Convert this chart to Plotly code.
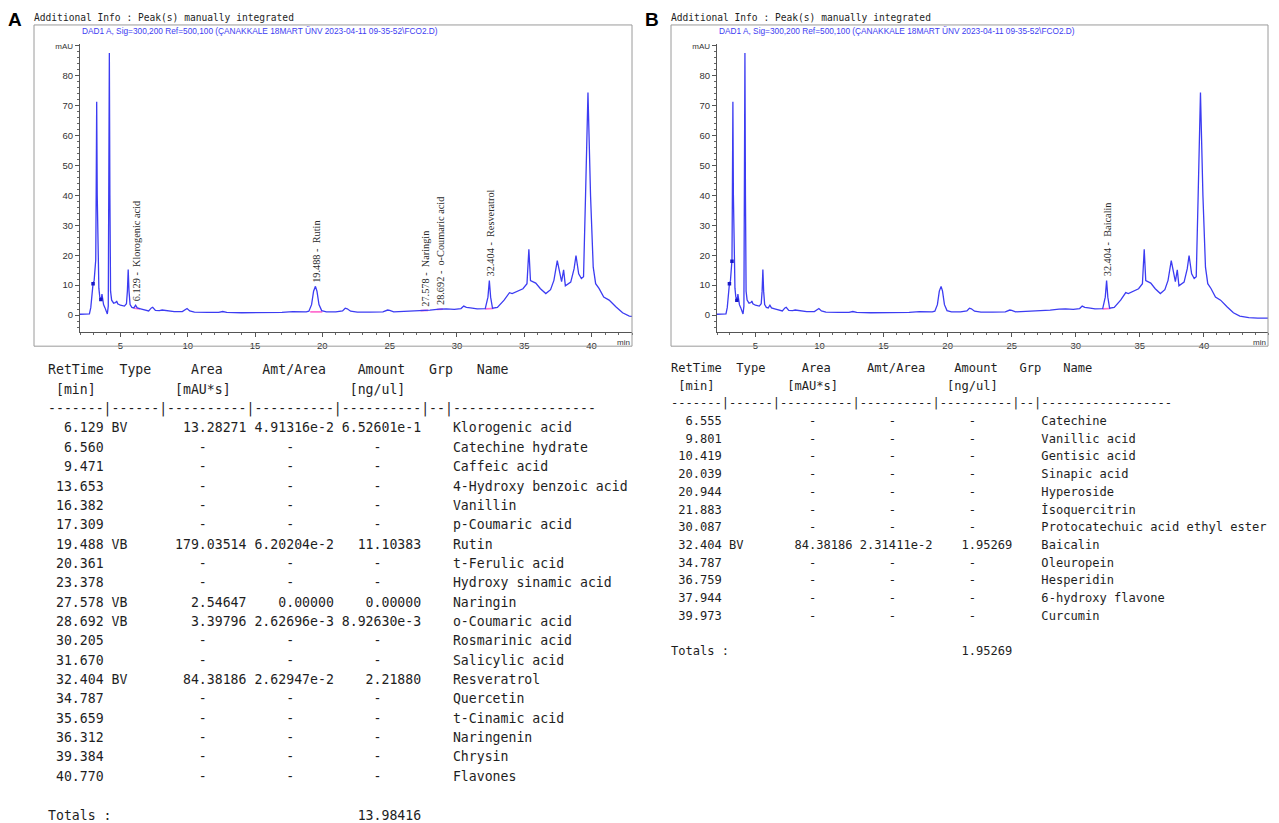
import plotly.graph_objects as go

W, H = 1279, 823
OX, OY = 8, 8          # page body margin of the written html
FW, FH = W - OX, H - OY

# ---------------- chromatogram data (same injection, shown in both panels) ----------------
rt_min = [2.0, 2.5, 2.7, 2.8, 2.88, 2.97, 3.05, 3.12, 3.17, 3.2, 3.24, 3.28, 3.33, 3.4, 3.47,
          3.52, 3.58, 3.63, 3.68, 3.75, 3.85, 3.95, 4.03, 4.1, 4.14, 4.18, 4.22, 4.27, 4.35,
          4.5, 4.65, 4.72, 4.8, 5.0, 5.3, 5.45, 5.52, 5.58, 5.64, 5.72, 5.85, 6.0, 6.13, 6.25,
          6.5, 6.8, 7.1, 7.3, 7.4, 7.6, 7.9, 8.1, 8.4, 9.0, 9.6, 9.85, 9.95, 10.15, 10.5, 11.5,
          12.3, 12.6, 12.9, 14.0, 15.0, 16.0, 17.0, 17.8, 18.1, 18.8, 19.0, 19.2, 19.35, 19.488,
          19.6, 19.75, 19.95, 20.3, 21.0, 21.5, 21.7, 21.85, 22.1, 22.6, 23.5, 24.5, 24.85, 25.0,
          25.3, 26.0, 27.0, 27.578, 28.0, 28.692, 29.2, 29.8, 30.3, 30.5, 30.7, 31.0, 31.5, 32.1,
          32.3, 32.404, 32.5, 32.64, 33.0, 33.5, 33.9, 34.1, 34.5, 34.9, 35.2, 35.34, 35.46,
          35.85, 36.2, 36.6, 36.95, 37.2, 37.45, 37.65, 37.77, 37.92, 38.05, 38.45, 38.7, 38.84,
          39.04, 39.24, 39.4, 39.55, 39.73, 39.92, 40.12, 40.3, 40.55, 40.9, 41.3, 41.8, 42.3,
          42.8, 43.5, 44.2, 45.0]
signal_mau = [0.3, 0.3, 0.4, 2.5, 7.5, 10.5, 11.5, 17.5, 18.5, 40.0, 71.2, 40.0, 18.0, 9.0, 6.0,
              5.3, 5.0, 7.0, 5.5, 3.5, 2.5, 0.8, 0.4, 3.0, 40.0, 87.5, 40.0, 8.0, 5.0,
              4.0, 4.2, 4.7, 3.8, 3.3, 3.0, 3.8, 8.0, 15.2, 8.0, 3.5, 2.6, 2.4, 3.3, 2.4,
              2.1, 1.7, 1.4, 2.4, 2.6, 1.6, 1.5, 1.7, 1.5, 1.2, 1.2, 2.0, 2.2, 1.4, 1.0, 0.9,
              0.9, 1.2, 0.9, 0.8, 0.8, 0.8, 0.9, 1.2, 1.1, 1.1, 1.3, 3.5, 8.0, 9.6,
              8.0, 3.5, 1.5, 1.1, 1.1, 1.4, 2.3, 2.1, 1.3, 1.0, 1.0, 1.1, 1.7, 1.6,
              1.1, 1.2, 1.4, 1.6, 1.7, 2.0, 2.1, 1.9, 2.2, 3.0, 2.6, 2.4, 2.1, 2.2,
              6.0, 11.5, 6.0, 2.3, 2.6, 5.0, 7.5, 7.2, 8.0, 8.8, 10.5, 22.0, 11.5,
              10.7, 8.8, 7.2, 8.5, 11.6, 18.2, 13.8, 11.2, 15.1, 9.8, 11.0, 15.5, 19.9,
              13.8, 12.2, 12.8, 40.0, 74.3, 40.0, 16.0, 10.5, 8.9, 6.0, 5.0, 2.8, 0.8,
              -0.3, -0.8, -1.0, -1.0]

# peak start / stop tick marks
mark_a_t = [2.97, 3.55]
mark_a_v = [10.5, 5.2]
mark_b_t = [2.97, 3.17, 3.55]
mark_b_v = [10.5, 18.0, 5.0]

# integration baselines (start, end, level)
base_a_t0 = [6.0, 19.1, 27.3, 28.5, 32.1]
base_a_t1 = [6.45, 20.0, 27.85, 28.95, 32.7]
base_a_v0 = [2.3, 1.1, 1.5, 1.9, 2.1]
base_a_v1 = [2.1, 1.1, 1.6, 2.0, 2.2]
base_b_t0 = [32.1]
base_b_t1 = [32.7]
base_b_v0 = [2.1]
base_b_v1 = [2.2]

# identified peaks
peak_a_rt = [6.129, 19.488, 27.578, 28.692, 32.404]
peak_a_name = ["Klorogenic acid", "Rutin", "Naringin", "o-Coumaric acid", "Resveratrol"]
peak_a_top = [3.3, 9.6, 1.6, 2.0, 11.5]
peak_b_rt = [32.404]
peak_b_name = ["Baicalin"]
peak_b_top = [11.5]

x_ticks = [5, 10, 15, 20, 25, 30, 35, 40]
y_ticks = [0, 10, 20, 30, 40, 50, 60, 70, 80, 90]
y_ticktext = ["0", "10", "20", "30", "40", "50", "60", "70", "80",
              "<span style='font-size:8px'>mAU</span>"]

# ---------------- report tables ----------------
a_ret = ["6.129", "6.560", "9.471", "13.653", "16.382", "17.309", "19.488", "20.361", "23.378",
         "27.578", "28.692", "30.205", "31.670", "32.404", "34.787", "35.659", "36.312",
         "39.384", "40.770"]
a_type = ["BV", "", "", "", "", "", "VB", "", "", "VB", "VB", "", "", "BV", "", "", "", "", ""]
a_area = ["13.28271", None, None, None, None, None, "179.03514", None, None, "2.54647",
          "3.39796", None, None, "84.38186", None, None, None, None, None]
a_amtarea = ["4.91316e-2", None, None, None, None, None, "6.20204e-2", None, None, "0.00000",
             "2.62696e-3", None, None, "2.62947e-2", None, None, None, None, None]
a_amount = ["6.52601e-1", None, None, None, None, None, "11.10383", None, None, "0.00000",
            "8.92630e-3", None, None, "2.21880", None, None, None, None, None]
a_name = ["Klorogenic acid", "Catechine hydrate", "Caffeic acid", "4-Hydroxy benzoic acid",
          "Vanillin", "p-Coumaric acid", "Rutin", "t-Ferulic acid", "Hydroxy sinamic acid",
          "Naringin", "o-Coumaric acid", "Rosmarinic acid", "Salicylic acid", "Resveratrol",
          "Quercetin", "t-Cinamic acid", "Naringenin", "Chrysin", "Flavones"]
a_total = "13.98416"

b_ret = ["6.555", "9.801", "10.419", "20.039", "20.944", "21.883", "30.087", "32.404",
         "34.787", "36.759", "37.944", "39.973"]
b_type = ["", "", "", "", "", "", "", "BV", "", "", "", ""]
b_area = [None, None, None, None, None, None, None, "84.38186", None, None, None, None]
b_amtarea = [None, None, None, None, None, None, None, "2.31411e-2", None, None, None, None]
b_amount = [None, None, None, None, None, None, None, "1.95269", None, None, None, None]
b_name = ["Catechine", "Vanillic acid", "Gentisic acid", "Sinapic acid", "Hyperoside",
          "İsoquercitrin", "Protocatechuic acid ethyl ester", "Baicalin", "Oleuropein",
          "Hesperidin", "6-hydroxy flavone", "Curcumin"]
b_total = "1.95269"

NB = "\u00a0"


def field(v):
    return ("    -     " if v is None else v.rjust(10))


def row_text(ret, typ, area, amtarea, amount, name):
    s = (ret.rjust(7) + " " + typ.ljust(6) + " " + field(area) + " " + field(amtarea) + " "
         + field(amount) + " " + "  " + " " + name)
    return s.replace(" ", NB)


hdr1 = ("RetTime" + " " * 2 + "Type" + " " * 5 + "Area" + " " * 5 + "Amt/Area" + " " * 4
        + "Amount" + " " * 3 + "Grp" + " " * 3 + "Name").replace(" ", NB)
hdr2 = (" [min]" + " " * 10 + "[mAU*s]" + " " * 15 + "[ng/ul]").replace(" ", NB)
dash = "-------|------|----------|----------|----------|--|" + "-" * 18


def total_text(v):
    return ("Totals :" + v.rjust(39)).replace(" ", NB)


def px(x):
    return (x - OX) / FW


def py(y):
    return 1 - (y - OY) / FH


MONO = "DejaVu Sans Mono"
SANS = "Liberation Sans, Arial"
SERIF = "Liberation Serif, Times New Roman"
TXT = "#1e1e1e"
BLUE = "#3c3cf2"

fig = go.Figure()


def add_panel(xa, ya, marks_t, marks_v, b0, b1, v0, v1):
    bx, by = [], []
    for s, e, p, q in zip(b0, b1, v0, v1):
        bx += [s, e, None]
        by += [p, q, None]
    fig.add_trace(go.Scatter(x=bx, y=by, mode="lines", xaxis=xa, yaxis=ya,
                             line=dict(color="#ff6fcf", width=1.6), hoverinfo="skip",
                             showlegend=False))
    fig.add_trace(go.Scatter(x=rt_min, y=signal_mau, mode="lines", xaxis=xa, yaxis=ya,
                             line=dict(color=BLUE, width=1.3), showlegend=False))
    fig.add_trace(go.Scatter(x=marks_t, y=marks_v, mode="markers", xaxis=xa, yaxis=ya,
                             marker=dict(color="#1818c8", size=3.5, symbol="square"),
                             showlegend=False))


add_panel("x", "y", mark_a_t, mark_a_v, base_a_t0, base_a_t1, base_a_v0, base_a_v1)
add_panel("x2", "y2", mark_b_t, mark_b_v, base_b_t0, base_b_t1, base_b_v0, base_b_v1)

xcommon = dict(tickvals=x_ticks, ticks="outside", ticklen=4, tickcolor="#555",
               showline=True, linecolor="#555", linewidth=1, showgrid=False, zeroline=False,
               tickfont=dict(family=SANS, size=9.5, color="#333"),
               minor=dict(dtick=1, ticks="outside", ticklen=2, tickcolor="#666"))
ycommon = dict(range=[-5.7, 90.5], tickvals=y_ticks, ticktext=y_ticktext, ticks="outside",
               ticklen=4, tickcolor="#555", showline=True, linecolor="#555", linewidth=1,
               showgrid=False, zeroline=False,
               tickfont=dict(family=SANS, size=9.5, color="#333"),
               minor=dict(dtick=2, ticks="outside", ticklen=2, tickcolor="#666"))

fig.update_layout(
    width=FW, height=FH, autosize=False,
    margin=dict(l=0, r=0, t=0, b=0),
    paper_bgcolor="white", plot_bgcolor="white", showlegend=False,
    xaxis=dict(domain=[px(80), px(632)], range=[2, 43], anchor="y", **xcommon),
    yaxis=dict(domain=[py(331), py(42)], anchor="x", **ycommon),
    xaxis2=dict(domain=[px(717), px(1268)], range=[2, 45], anchor="y2", **xcommon),
    yaxis2=dict(domain=[py(331), py(42)], anchor="x2", **ycommon),
)

ann = []
shapes = []

for (l, r) in [(34, 632), (671, 1268)]:
    shapes.append(dict(type="rect", xref="paper", yref="paper", x0=px(l), x1=px(r),
                       y0=py(345), y1=py(23), line=dict(color="#9a9a9a", width=1)))

for letter, lx, fx, bx in [("A", 15, 34, 82), ("B", 652, 671, 719)]:
    ann.append(dict(text="<b>" + letter + "</b>", x=px(lx), y=py(18), xref="paper",
                    yref="paper", showarrow=False, xanchor="center", yanchor="middle",
                    font=dict(family=SANS, size=19, color="black")))
    ann.append(dict(text="Additional Info : Peak(s) manually integrated".replace(" ", NB),
                    x=px(fx), y=py(16), xref="paper", yref="paper", showarrow=False,
                    xanchor="left", yanchor="middle", xshift=-2,
                    font=dict(family=MONO, size=9.6, color=TXT)))
    ann.append(dict(text="DAD1 A, Sig=300,200 Ref=500,100 (ÇANAKKALE 18MART ÜNV 2023-04-11 "
                         "09-35-52\\FCO2.D)",
                    x=px(bx), y=py(29), xref="paper", yref="paper", showarrow=False,
                    xanchor="left", yanchor="middle", xshift=-2,
                    font=dict(family=SANS, size=8.3, color=BLUE)))

for rx in [632, 1268]:
    ann.append(dict(text="min", x=px(rx), y=py(341), xref="paper", yref="paper",
                    showarrow=False, xanchor="right", yanchor="middle",
                    font=dict(family=SANS, size=8, color="#333")))

for xr, yr, rts, names, tops in [("x", "y", peak_a_rt, peak_a_name, peak_a_top),
                                 ("x2", "y2", peak_b_rt, peak_b_name, peak_b_top)]:
    for rt, nm, top in zip(rts, names, tops):
        ann.append(dict(text=(f"{rt:.3f} -  {nm}").replace(" ", NB), x=rt, y=top,
                        xref=xr, yref=yr, showarrow=False, textangle=-90,
                        xanchor="center", yanchor="bottom", xshift=1, yshift=2,
                        font=dict(family=SERIF, size=10.3, color="#2a2a2a")))


def add_table(x0, y0, step, size, ret, typ, area, amtarea, amount, name, total):
    lines = [hdr1, hdr2, dash]
    for r in zip(ret, typ, area, amtarea, amount, name):
        lines.append(row_text(*r))
    lines.append(None)
    lines.append(total_text(total))
    for i, s in enumerate(lines):
        if s is None:
            continue
        ann.append(dict(text=s, x=px(x0), y=py(y0 + i * step), xref="paper", yref="paper",
                        showarrow=False, xanchor="left", yanchor="middle", xshift=-2,
                        font=dict(family=MONO, size=size, color=TXT)))


add_table(48, 368.8, 19.4, 13.2, a_ret, a_type, a_area, a_amtarea, a_amount, a_name, a_total)
add_table(671, 366.7, 17.75, 12.07, b_ret, b_type, b_area, b_amtarea, b_amount, b_name, b_total)

fig.update_layout(annotations=ann, shapes=shapes)
fig.write_html("out.html")
